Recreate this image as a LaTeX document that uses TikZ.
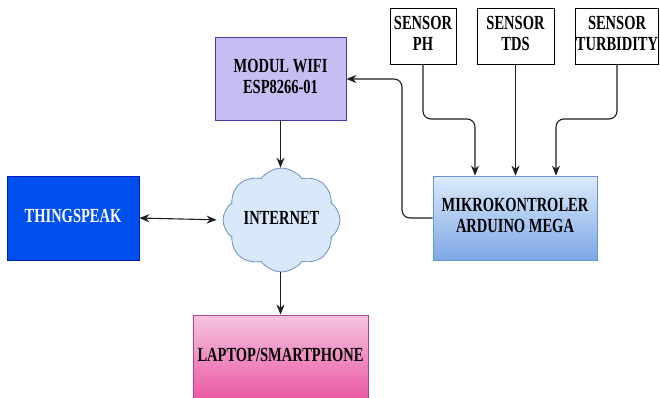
\documentclass[tikz,border=0pt]{standalone}
\usepackage{fontspec}
\setmainfont{Liberation Serif}
\usetikzlibrary{shapes.symbols,arrows.meta}
\definecolor{wififill}{RGB}{196,190,242}
\definecolor{wifiline}{RGB}{70,60,170}
\definecolor{tsfill}{RGB}{0,80,239}
\definecolor{tsline}{RGB}{0,29,188}
\definecolor{mctop}{RGB}{220,234,253}
\definecolor{mcbot}{RGB}{126,168,228}
\definecolor{mcline}{RGB}{100,150,220}
\definecolor{lptop}{RGB}{246,196,224}
\definecolor{lpbot}{RGB}{234,88,163}
\definecolor{lpline}{RGB}{180,64,138}
\definecolor{cloudfill}{RGB}{218,232,252}
\definecolor{cloudline}{RGB}{108,142,191}
\definecolor{conn}{RGB}{30,30,30}
\newcommand{\tx}[1]{\scalebox{1}[1.38]{\begin{tabular}{@{}c@{}}#1\end{tabular}}}
\begin{document}
\begin{tikzpicture}[x=1pt,y=-1pt,
  lbl/.style={font=\bfseries\fontsize{14.5}{15.5}\selectfont, align=center, inner sep=0pt},
  blockbox/.style={lbl, draw, line width=0.8pt},
  sensorbox/.style={blockbox, draw=black, fill=white, minimum width=65pt, minimum height=56pt},
  conn/.style={draw=conn, line width=1.1pt, rounded corners=8pt, -{Stealth[length=10pt,width=8pt]}},
  biconn/.style={draw=conn, line width=1.1pt, {Stealth[length=10pt,width=8pt]}-{Stealth[length=10pt,width=8pt]}}
]
\useasboundingbox (0,0) rectangle (660,398);
\node[blockbox, draw=wifiline, fill=wififill, minimum width=131pt, minimum height=83pt] (wifi) at (280.5,78.5) {\tx{MODUL WIFI\\ESP8266-01}};
\node[sensorbox, minimum width=66pt] (ph) at (423,36) {\tx{SENSOR\\PH}};
\node[sensorbox, minimum width=77pt] (tds) at (515.5,36) {\tx{SENSOR\\TDS}};
\node[sensorbox, minimum width=83pt] (turb) at (617,36) {\tx{SENSOR\\TURBIDITY}};
\node[blockbox, draw=mcline, top color=mctop, bottom color=mcbot, minimum width=164pt, minimum height=84pt] (mc) at (515,218) {\tx{MIKROKONTROLER\\ARDUINO MEGA}};
\node[blockbox, draw=tsline, fill=tsfill, text=white, minimum width=132pt, minimum height=84pt] (ts) at (73,218) {\tx{THINGSPEAK}};
\node[lbl, cloud, cloud puffs=8, cloud puff arc=110, aspect=1.2, draw=cloudline, fill=cloudfill, line width=0.8pt, minimum width=117pt, minimum height=96pt] (net) at (281.5,220) {\tx{INTERNET}};
\node[blockbox, draw=lpline, top color=lptop, bottom color=lpbot, minimum width=175pt, minimum height=85pt] (lp) at (280.5,357.5) {\tx{LAPTOP/SMARTPHONE}};

\coordinate (phm) at (475,176);
\coordinate (tum) at (556,176);
\draw[conn] (ph.south) -- (ph.south |- 0,119) -- (475,119) -- (mc.north -| phm);
\draw[conn] (tds.south) -- (mc.north -| tds.south);
\draw[conn] (turb.south) -- (turb.south |- 0,119) -- (556,119) -- (mc.north -| tum);
\draw[conn] (mc.west) -- (402,218) -- (402,79) -- (wifi.east |- 0,79);
\draw[conn] (wifi.south) -- (net.north -| wifi.south);
\draw[biconn, shorten >=6pt] (ts.east) -- (net.west);
\draw[conn] (net.south -| lp.north) -- (lp.north);
\end{tikzpicture}
\end{document}
